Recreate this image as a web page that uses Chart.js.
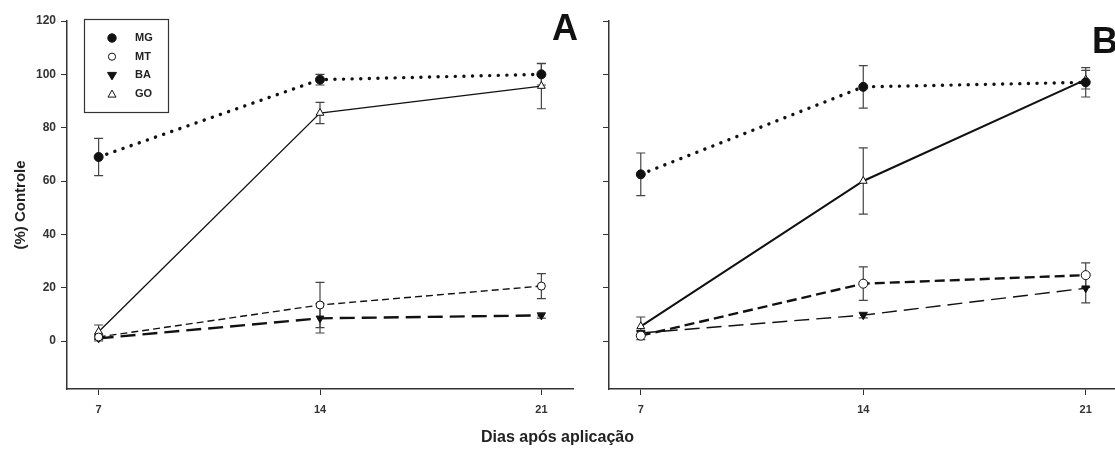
<!DOCTYPE html>
<html>
<head>
<meta charset="utf-8">
<script src="https://cdn.jsdelivr.net/npm/chart.js@4.4.1/dist/chart.umd.min.js"></script>
<style>
  html, body { margin: 0; padding: 0; background: #fff; }
  #wrap { position: relative; width: 1115px; height: 450px; overflow: hidden; font-family: "Liberation Sans", Arial, sans-serif; color: #222; }
  #cA { position: absolute; left: 0; top: 0; }
  #cB { position: absolute; left: 585px; top: 0; }
  .painel { position: absolute; font-weight: bold; font-size: 36px; line-height: 1; color: #111; }
  #xtitulo { position: absolute; left: 0; width: 1115px; top: 428px; text-align: center; font-weight: bold; font-size: 16px; }
</style>
</head>
<body>
<div id="wrap">
  <canvas id="cA" width="585" height="450"></canvas>
  <canvas id="cB" width="538" height="450"></canvas>
  <div class="painel" style="left:552px;top:10px">A</div>
  <div class="painel" style="left:1092px;top:23px">B</div>
  <div id="xtitulo">Dias após aplicação</div>
</div>
<script>
/* dados (média e erro) */
const DIAS = [7, 14, 21];
const Y_TICKS = [0, 20, 40, 60, 80, 100, 120];
const ROTULOS = ['MG', 'MT', 'BA', 'GO'];

// painel A
const A_MG = [69, 98, 100],    A_MG_ERR = [7, 2, 4];
const A_MT = [1.5, 13.5, 20.6], A_MT_ERR = [1, 8.5, 4.7];
const A_BA = [1, 8.5, 9.6],    A_BA_ERR = [1, 5.5, 1];
const A_GO = [3.5, 85.5, 95.6], A_GO_ERR = [2.5, 4, 8.5];

// painel B
const B_MG = [62.5, 95.3, 97],  B_MG_ERR = [8, 8, 5.5];
const B_MT = [2, 21.5, 24.7],   B_MT_ERR = [1.5, 6.3, 4.6];
const B_BA = [3, 9.7, 19.8],    B_BA_ERR = [1, 1, 5.5];
const B_GO = [5.5, 60, 98],     B_GO_ERR = [3.5, 12.4, 3.5];

const PRETO = '#111';
const EIXO = '#333';
const FONTE = '"Liberation Sans", Arial, sans-serif';

/* barras de erro desenhadas pelas escalas do próprio gráfico */
const barrasErro = {
  id: 'barrasErro',
  beforeDatasetsDraw(chart) {
    const ctx = chart.ctx, ys = chart.scales.y;
    chart.data.datasets.forEach((ds, i) => {
      const meta = chart.getDatasetMeta(i);
      (ds.erro || []).forEach((e, j) => {
        const p = meta.data[j];
        if (!p || !e) return;
        const y1 = ys.getPixelForValue(ds.data[j].y + e);
        const y2 = ys.getPixelForValue(ds.data[j].y - e);
        ctx.save();
        ctx.strokeStyle = '#444';
        ctx.lineWidth = 1.2;
        ctx.beginPath();
        ctx.moveTo(p.x, y1); ctx.lineTo(p.x, y2);
        ctx.moveTo(p.x - 4.5, y1); ctx.lineTo(p.x + 4.5, y1);
        ctx.moveTo(p.x - 4.5, y2); ctx.lineTo(p.x + 4.5, y2);
        ctx.stroke();
        ctx.restore();
      });
    });
  }
};

/* legenda em caixa dentro do painel A */
function marcador(ctx, tipo, x, y) {
  ctx.beginPath();
  if (tipo === 'MG' || tipo === 'MT') {
    ctx.arc(x, y, tipo === 'MG' ? 4.2 : 3.6, 0, Math.PI * 2);
  } else if (tipo === 'BA') {
    ctx.moveTo(x - 4.5, y - 3); ctx.lineTo(x + 4.5, y - 3); ctx.lineTo(x, y + 4.5); ctx.closePath();
  } else {
    ctx.moveTo(x - 4, y + 3); ctx.lineTo(x + 4, y + 3); ctx.lineTo(x, y - 4); ctx.closePath();
  }
  const cheio = tipo === 'MG' || tipo === 'BA';
  ctx.fillStyle = cheio ? PRETO : '#fff';
  ctx.fill();
  ctx.lineWidth = 1;
  ctx.strokeStyle = PRETO;
  ctx.stroke();
}

const legendaCaixa = {
  id: 'legendaCaixa',
  afterDraw(chart) {
    const ctx = chart.ctx;
    ctx.save();
    ctx.strokeStyle = EIXO;
    ctx.lineWidth = 1.2;
    ctx.strokeRect(84.5, 19.5, 84, 93);
    ctx.font = 'bold 11px ' + FONTE;
    ctx.textBaseline = 'middle';
    ctx.textAlign = 'left';
    ROTULOS.forEach((r, i) => {
      const y = 38 + i * 18.7;
      marcador(ctx, r, 112, y);
      ctx.fillStyle = '#222';
      ctx.fillText(r, 135, y);
    });
    ctx.restore();
  }
};

function serie(label, valores, erros, estilo) {
  return Object.assign({
    label,
    data: DIAS.map((d, i) => ({ x: d, y: valores[i] })),
    erro: erros,
    borderColor: PRETO,
    pointBorderColor: PRETO,
    pointBorderWidth: 1,
    pointRadius: 4,
    tension: 0,
    fill: false
  }, estilo);
}

function graficoPainel(canvasId, datasets, painelA) {
  const el = document.getElementById(canvasId);
  const eixoComum = {
    grid: { display: true, drawOnChartArea: false, drawTicks: true, tickLength: 6, color: EIXO, lineWidth: 1 },
    border: { display: true, color: EIXO, width: 1.5 }
  };
  return new Chart(el, {
    type: 'line',
    data: { datasets },
    plugins: painelA ? [barrasErro, legendaCaixa] : [barrasErro],
    options: {
      responsive: false, animation: false,
      layout: { padding: { top: 21, right: painelA ? 12 : 0, bottom: 0, left: 0 } },
      plugins: { legend: { display: false }, tooltip: { enabled: false } },
      scales: {
        x: Object.assign({}, eixoComum, {
          type: 'linear', min: 6, max: 22,
          afterBuildTicks: s => { s.ticks = DIAS.map(v => ({ value: v })); },
          afterFit: s => { s.height = 61; },
          ticks: { color: '#333', padding: 8, font: { family: FONTE, size: 11, weight: 'bold' } }
        }),
        y: Object.assign({}, eixoComum, {
          min: -18, max: 120,
          afterBuildTicks: s => { s.ticks = Y_TICKS.map(v => ({ value: v })); },
          afterFit: s => { s.width = painelA ? 67 : 24; },
          ticks: { display: painelA, color: '#333', padding: 5, font: { family: FONTE, size: 12, weight: 'bold' } },
          title: {
            display: painelA, text: '(%) Controle', color: '#222',
            font: { family: FONTE, size: 15, weight: 'bold' }, padding: { top: 12, bottom: 0 }
          }
        })
      }
    }
  });
}

graficoPainel('cA', [
  serie('MG', A_MG, A_MG_ERR, { borderWidth: 3.4, borderDash: [0.1, 8.5], borderCapStyle: 'round', pointStyle: 'circle', pointBackgroundColor: PRETO, pointRadius: 4.5 }),
  serie('MT', A_MT, A_MT_ERR, { borderWidth: 1.4, borderDash: [7, 4], pointStyle: 'circle', pointBackgroundColor: '#fff', pointRadius: 4 }),
  serie('BA', A_BA, A_BA_ERR, { borderWidth: 2.4, borderDash: [15, 7], pointStyle: 'triangle', pointRotation: 180, pointBackgroundColor: PRETO, pointRadius: 4.5 }),
  serie('GO', A_GO, A_GO_ERR, { borderWidth: 1.3, pointStyle: 'triangle', pointBackgroundColor: '#fff', pointRadius: 4.5 })
], true);

graficoPainel('cB', [
  serie('MG', B_MG, B_MG_ERR, { borderWidth: 3.4, borderDash: [0.1, 8.5], borderCapStyle: 'round', pointStyle: 'circle', pointBackgroundColor: PRETO, pointRadius: 4.5 }),
  serie('MT', B_MT, B_MT_ERR, { borderWidth: 2.4, borderDash: [10, 5], pointStyle: 'circle', pointBackgroundColor: '#fff', pointRadius: 4.5 }),
  serie('BA', B_BA, B_BA_ERR, { borderWidth: 1.4, borderDash: [15, 7], pointStyle: 'triangle', pointRotation: 180, pointBackgroundColor: PRETO, pointRadius: 4.5 }),
  serie('GO', B_GO, B_GO_ERR, { borderWidth: 2, pointStyle: 'triangle', pointBackgroundColor: '#fff', pointRadius: 4.5 })
], false);
</script>
</body>
</html>
